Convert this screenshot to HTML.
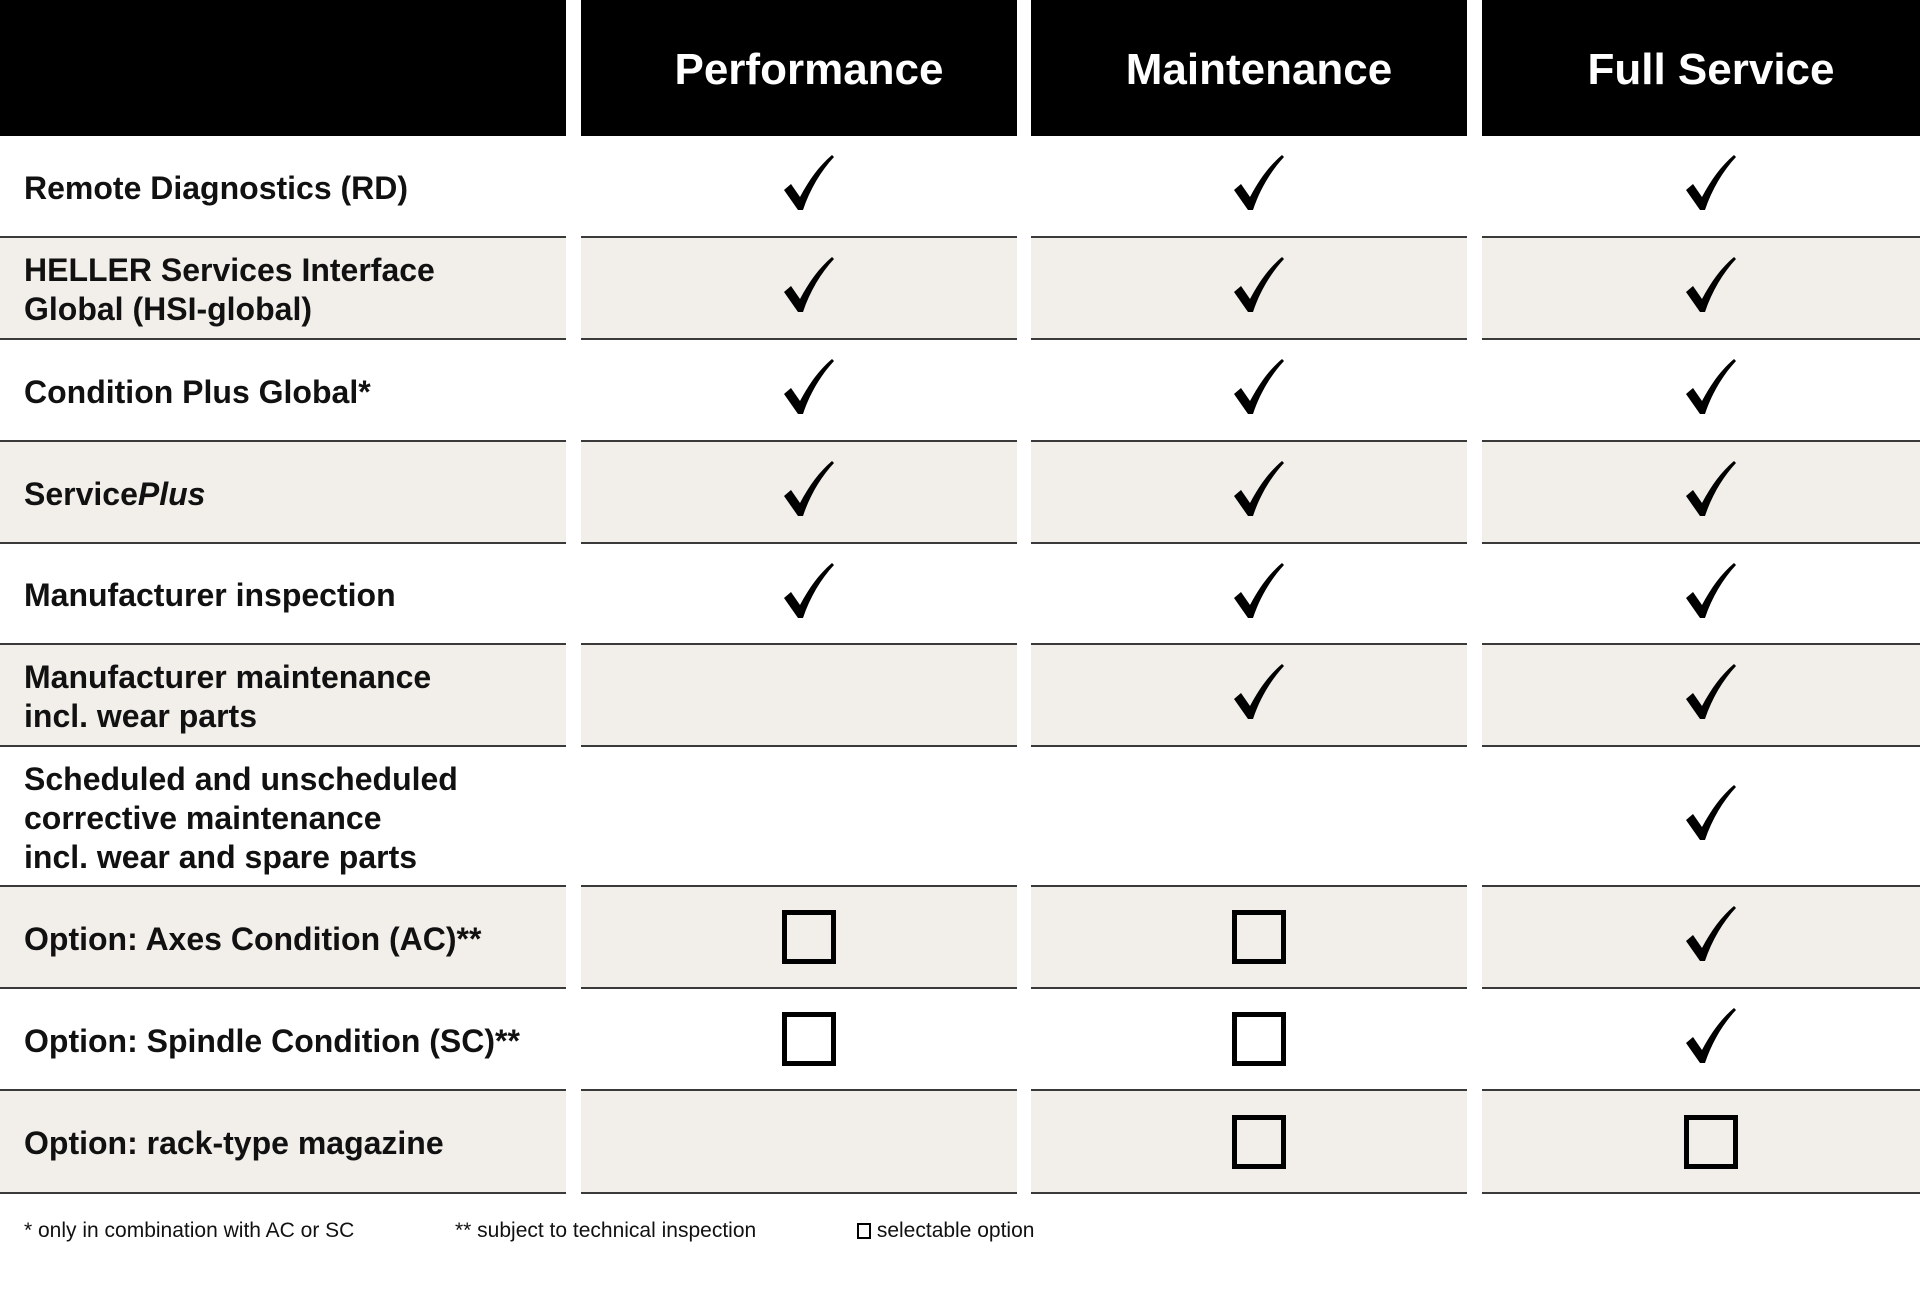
<!DOCTYPE html>
<html><head><meta charset="utf-8"><style>
body{margin:0;width:1920px;height:1295px;background:#fff;position:relative;overflow:hidden;font-family:"Liberation Sans Narrow","Liberation Sans",sans-serif;}
.c{position:absolute;box-sizing:border-box;}
.h{background:#000;color:#fff;font-weight:bold;font-size:44px;display:flex;align-items:center;justify-content:center;padding-left:20px;padding-top:4px;}
.r{border-bottom:2px solid #3a3a3a;display:flex;align-items:center;}
.g{background:#f2eeea;}
.l{font-weight:bold;font-size:32px;line-height:39px;padding-left:24px;padding-top:4px;color:#111;}
.m{justify-content:center;padding-left:20px;}
.box{width:54px;height:54px;border:5px solid #000;box-sizing:border-box;}
.f{position:absolute;top:1219px;font-size:21px;color:#111;}
</style></head><body>
<div class="c h" style="left:0;top:0;width:566px;height:136px"></div>
<div class="c h" style="left:581px;top:0;width:436px;height:136px">Performance</div>
<div class="c h" style="left:1031px;top:0;width:436px;height:136px">Maintenance</div>
<div class="c h" style="left:1482px;top:0;width:438px;height:136px">Full Service</div>
<div id="rows"></div>
<div class="f" style="left:24px">* only in combination with AC or SC</div>
<div class="f" style="left:455px">** subject to technical inspection</div>
<div class="f" style="left:857px"><span style="display:inline-block;width:14px;height:16px;border:2px solid #000;box-sizing:border-box;vertical-align:-2px"></span> selectable option</div>
<script>
var tops=[136,238,340,442,544,645,747,887,989,1091,1194];
var labels=["Remote Diagnostics (RD)","HELLER Services Interface<br>Global (HSI-global)","Condition Plus Global*","Service<i>Plus</i>","Manufacturer inspection","Manufacturer maintenance<br>incl. wear parts","Scheduled and unscheduled<br>corrective maintenance<br>incl. wear and spare parts","Option: Axes Condition (AC)**","Option: Spindle Condition (SC)**","Option: rack-type magazine"];
var v=[["c","c","c"],["c","c","c"],["c","c","c"],["c","c","c"],["c","c","c"],["","c","c"],["","","c"],["b","b","c"],["b","b","c"],["","b","b"]];
var cols=[[581,436],[1031,436],[1482,438]];
var chk='<svg width="52" height="58" viewBox="0 0 52 58" style="margin-top:-6px"><path d="M1,36 L8,30 L17,43 C26,26 36,12 49,1 L51,3 C38,17 27,35 20,56 L15,56 Z" fill="#000"/></svg>';
var h='';
for(var i=0;i<10;i++){var t=tops[i],hh=tops[i+1]-t,g=(i%2==1)?' g':'';
h+='<div class="c r l'+g+'" style="left:0;top:'+t+'px;width:566px;height:'+hh+'px">'+'<div>'+labels[i]+'</div></div>';
for(var j=0;j<3;j++){var x=v[i][j];var inner=x=='c'?chk:(x=='b'?'<div class="box"></div>':'');
h+='<div class="c r m'+g+'" style="left:'+cols[j][0]+'px;top:'+t+'px;width:'+cols[j][1]+'px;height:'+hh+'px">'+inner+'</div>';}}
document.getElementById('rows').innerHTML=h;
</script>
</body></html>
